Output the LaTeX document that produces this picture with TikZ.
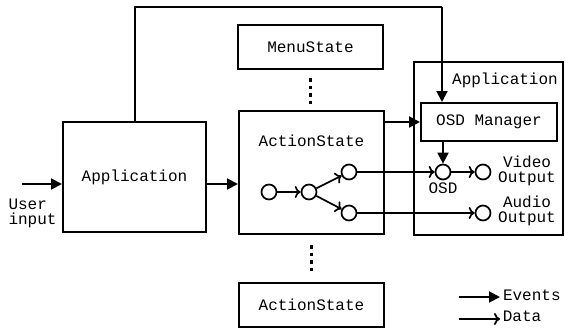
\documentclass[tikz,border=0pt]{standalone}
\usepackage{fontspec}
\setmainfont{Liberation Mono}
\usetikzlibrary{arrows.meta}
\begin{document}
\begin{tikzpicture}[x=1pt,y=-1pt,
  every node/.style={font=\fontsize{16}{15.5}\selectfont},
  box/.style={draw,line width=2pt,inner sep=0pt,rectangle},
  circ/.style={draw,circle,line width=1.7pt,minimum size=15pt,inner sep=0pt},
  ev/.style={line width=2pt,-{Triangle[length=11pt,width=11pt]}},
  da/.style={line width=1.7pt,-{To[length=6pt,width=12pt,line width=1.7pt]}},
  dots/.style={line width=2.4pt,dash pattern=on 3.5pt off 4pt}]
\useasboundingbox (0,0) rectangle (565,330);
% boxes
\node[box,minimum width=143pt,minimum height=110pt] (app) at (134.5,177) {Application};
\node[box,minimum width=145pt,minimum height=44pt] (menu) at (310.5,47) {MenuState};
\node[box,minimum width=145pt,minimum height=123pt] (as) at (311.5,172.5) {};
\node (aslbl) at (311.5,141) {ActionState};
\node[box,minimum width=145pt,minimum height=44pt] (as2) at (311.5,305) {ActionState};
\node[box,minimum width=149pt,minimum height=173pt] (appr) at (488.5,148.5) {};
\node (apprlbl) at (505,80) {Application};
\node[box,minimum width=136pt,minimum height=38pt] (osdm) at (489,122) {OSD Manager};
% dotted links
\draw[dots] (menu.south) ++(0,8) coordinate (d1) -- (d1 |- 0,105);
\draw[dots] (as.south) ++(0,10) coordinate (d2) -- (d2 |- 0,273);
% circles
\node[circ] (c1) at (269,192) {};
\node[circ] (c2) at (309,192) {};
\node[circ] (c3) at (349,172) {};
\node[circ] (c4) at (349,213) {};
\node[circ] (osd) at (443,172) {};
\node[circ] (vid) at (483,172) {};
\node[circ] (aud) at (483,213) {};
\node (osdlbl) at (443,188) {OSD};
\node[align=center] (vidlbl) at (527,171) {Video\\Output};
\node[align=center] (audlbl) at (527,211) {Audio\\Output};
% event arrows
\coordinate (top) at (442,7);
\draw[line width=2pt] (app.north) |- (top);
\draw[ev] (top) -- (top |- osdm.north);
\draw[ev] (as.east |- osdm.west) -- (osdm.west);
\draw[ev] (osdm.south -| osd) -- (osd.north);
\coordinate (ae) at (206,184);
\draw[ev] (ae) -- (ae -| as.west);
\coordinate (ui) at (22,184);
\draw[ev] (ui) -- (ui -| app.west);
\node[align=left,anchor=north west] (uilbl) at (5,195) {User\\input};
% data arrows
\draw[da] (c1) -- (c2);
\draw[da] (c2) -- (c3);
\draw[da] (c2) -- (c4);
\draw[da] (c3) -- (osd);
\draw[da] (osd) -- (vid);
\draw[da] (c4) -- (aud);
% legend
\coordinate (e1) at (459,297);
\coordinate (e2) at (500,297);
\draw[ev] (e1) -- (e2) node[right,inner sep=2pt,yshift=2pt] (evlbl) {Events};
\coordinate (f1) at (459,319);
\coordinate (f2) at (500,319);
\draw[da] (f1) -- (f2) node[right,inner sep=2pt,yshift=3pt] (dalbl) {Data};
\end{tikzpicture}
\end{document}
